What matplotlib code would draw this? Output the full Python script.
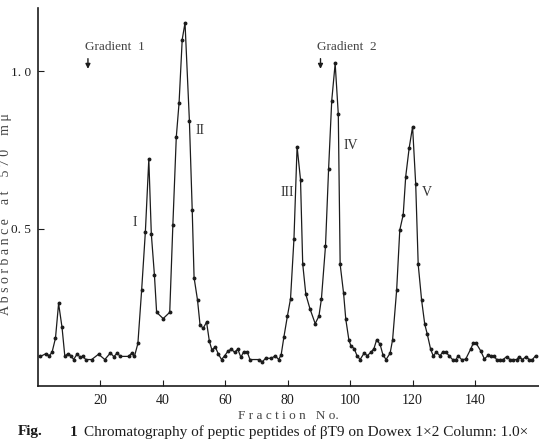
import matplotlib.pyplot as plt

plt.rcParams['font.family'] = ['Liberation Serif', 'DejaVu Serif']

# fraction number and absorbance
fractions = [0.8, 2.6, 3.6, 4.5, 5.6, 6.6, 7.7, 8.6, 9.6, 10.6, 11.4, 12.5,
             13.5, 14.4, 15.3, 17.2, 19.4, 21.4, 23.2, 24.3, 25.4, 26.3, 29.0,
             30.0, 30.9, 32.0, 33.2, 34.4, 35.5, 36.3, 37.3, 38.0, 40.1, 42.2,
             43.2, 44.3, 45.2, 46.2, 47.1, 48.5, 49.4, 50.0, 51.1, 51.9, 52.9,
             54.0, 54.9, 55.7, 56.8, 57.8, 58.8, 59.8, 60.8, 61.9, 63.0, 64.0,
             65.0, 65.9, 67.0, 67.9, 70.7, 71.9, 72.9, 74.8, 76.0, 77.1, 77.9,
             78.8, 79.9, 80.9, 82.0, 83.0, 84.1, 84.8, 85.8, 87.1, 88.8, 90.0,
             90.8, 92.1, 93.1, 94.1, 95.2, 96.2, 96.8, 97.9, 98.6, 99.6, 100.3,
             101.3, 102.2, 103.2, 104.5, 105.5, 106.6, 107.6, 108.5, 109.6,
             110.5, 111.5, 112.8, 113.6, 114.9, 115.9, 117.0, 117.8, 118.9,
             120.0, 121.0, 121.8, 122.9, 123.9, 124.7, 125.8, 126.6, 127.6,
             128.8, 129.6, 130.7, 131.7, 132.8, 133.9, 134.6, 135.7, 137.0,
             138.6, 139.4, 140.4, 141.8, 143.0, 144.3, 145.1, 146.1, 146.9,
             148.0, 149.0, 150.1, 151.2, 152.2, 153.3, 154.2, 155.2, 156.3,
             157.4, 158.4, 159.4]
absorbance = [0.094, 0.103, 0.096, 0.107, 0.152, 0.262, 0.186, 0.094, 0.103,
              0.096, 0.084, 0.101, 0.092, 0.094, 0.084, 0.084, 0.101, 0.084,
              0.105, 0.093, 0.105, 0.094, 0.094, 0.104, 0.094, 0.135, 0.304,
              0.49, 0.72, 0.483, 0.352, 0.234, 0.214, 0.234, 0.51, 0.79, 0.90,
              1.10, 1.153, 0.842, 0.56, 0.344, 0.273, 0.195, 0.183, 0.203,
              0.142, 0.115, 0.124, 0.101, 0.084, 0.096, 0.11, 0.117, 0.107,
              0.117, 0.091, 0.109, 0.109, 0.084, 0.084, 0.077, 0.088, 0.088,
              0.096, 0.084, 0.099, 0.157, 0.222, 0.277, 0.467, 0.76, 0.655,
              0.388, 0.291, 0.246, 0.198, 0.222, 0.277, 0.444, 0.69, 0.906,
              1.024, 0.863, 0.386, 0.294, 0.212, 0.146, 0.126, 0.119, 0.096,
              0.084, 0.105, 0.096, 0.107, 0.118, 0.147, 0.132, 0.099, 0.084,
              0.104, 0.147, 0.305, 0.495, 0.544, 0.665, 0.755, 0.823, 0.641,
              0.386, 0.272, 0.196, 0.165, 0.116, 0.096, 0.107, 0.096, 0.107,
              0.107, 0.096, 0.084, 0.084, 0.096, 0.084, 0.085, 0.117, 0.135,
              0.135, 0.112, 0.086, 0.098, 0.096, 0.096, 0.084, 0.084, 0.084,
              0.093, 0.084, 0.084, 0.084, 0.093, 0.084, 0.093, 0.084, 0.084,
              0.096]

x_ticks = [20, 40, 60, 80, 100, 120, 140]
y_ticks = [0.5, 1.0]
y_tick_labels = ['0. 5', '1. 0']

peak_names = ['I', 'II', 'III', 'IV', 'V']
peak_label_x = [30.9, 52.0, 80.0, 100.3, 124.6]
peak_label_y = [0.52, 0.81, 0.614, 0.763, 0.614]

gradient_names = ['Gradient  1', 'Gradient  2']
gradient_x = [16.0, 90.5]

ink = '#1c1c1c'

fig = plt.figure(figsize=(5.39, 4.43), dpi=100)
ax = fig.add_axes([38 / 539, 57 / 443, 501 / 539, 378 / 443])

ax.plot(fractions, absorbance, '-', color=ink, lw=0.9,
        marker='o', ms=1.8, mfc=ink, mec=ink)

ax.set_xlim(0, 160.5)
ax.set_ylim(0, 1.2)
for s in ['top', 'right']:
    ax.spines[s].set_visible(False)
for s in ['left', 'bottom']:
    ax.spines[s].set_linewidth(1.2)
    ax.spines[s].set_color(ink)

ax.set_xticks(x_ticks)
ax.set_yticks(y_ticks)
ax.set_yticklabels(y_tick_labels)
ax.tick_params(direction='in', length=4, width=0.8, colors=ink,
               labelsize=10, pad=6)
ax.tick_params(axis='y', labelsize=9.5, pad=5)

ax.set_xlabel('F r a c t i o n   N o.', fontsize=9.5, color='#444444',
              labelpad=2)
fig.text(6 / 539, 1 - 214 / 443, 'A b s o r b a n c e    a t    5 7 0    m μ',
         fontsize=10, color='#444444', rotation=90, ha='center', va='center')

for name, px, py in zip(peak_names, peak_label_x, peak_label_y):
    ax.text(px, py, name, fontsize=10, ha='center', va='center', color='#333333')

for name, gx in zip(gradient_names, gradient_x):
    ax.text(gx - 1.0, 1.077, name, fontsize=9.5, ha='left', va='center',
            color='#444444')
    ax.annotate('', xy=(gx, 0.998), xytext=(gx, 1.048),
                arrowprops=dict(arrowstyle='-|>', color=ink, lw=1,
                                mutation_scale=7))

fig.text(18 / 539, 1 - 432 / 443, 'Fig.', fontsize=11, weight='bold',
         va='center', color=ink)
fig.text(70 / 539, 1 - 432 / 443, '1', fontsize=11, weight='bold',
         va='center', color=ink)
fig.text(84 / 539, 1 - 432 / 443,
         'Chromatography of peptic peptides of βT9 on Dowex 1×2 Column: 1.0×',
         fontsize=11, va='center', color=ink)

fig.savefig('out.png', dpi=100)
